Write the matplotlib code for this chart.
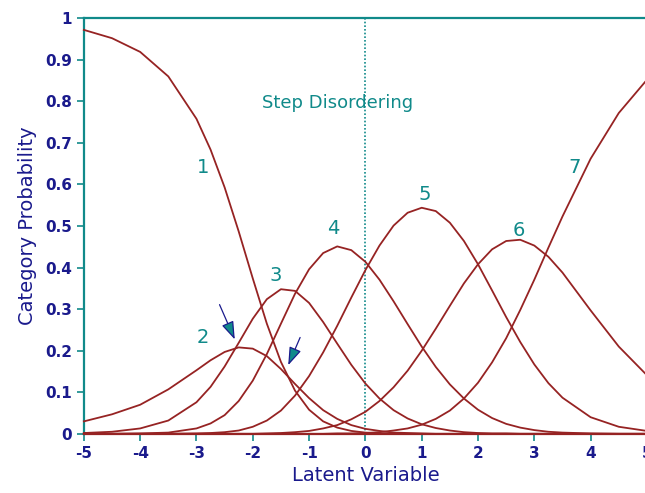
import numpy as np
import matplotlib.pyplot as plt

# latent variable positions and category probability curves
x = [-5, -4.5, -4, -3.5, -3, -2.75, -2.5, -2.25, -2, -1.75, -1.5, -1.25, -1, -0.75,
     -0.5, -0.25, 0, 0.25, 0.5, 0.75, 1, 1.25, 1.5, 1.75, 2, 2.25, 2.5, 2.75, 3, 3.25,
     3.5, 4, 4.5, 5]
cat1 = [0.972, 0.952, 0.919, 0.860, 0.758, 0.684, 0.593, 0.487, 0.374, 0.265, 0.173, 0.104,
        0.058, 0.030, 0.015, 0.007, 0.003, 0.001, 0.001, 0, 0, 0, 0, 0, 0, 0, 0, 0, 0, 0,
        0, 0, 0, 0]
cat2 = [0.030, 0.047, 0.070, 0.107, 0.153, 0.177, 0.197, 0.208, 0.205, 0.187, 0.156, 0.120,
        0.086, 0.057, 0.036, 0.021, 0.012, 0.007, 0.003, 0.002, 0.001, 0, 0, 0, 0, 0, 0, 0,
        0, 0, 0, 0, 0, 0]
cat3 = [0.002, 0.005, 0.013, 0.032, 0.076, 0.113, 0.162, 0.219, 0.277, 0.324, 0.348, 0.344,
        0.315, 0.269, 0.217, 0.166, 0.121, 0.085, 0.057, 0.037, 0.023, 0.014, 0.008, 0.004,
        0.002, 0.001, 0.001, 0, 0, 0, 0, 0, 0, 0]
cat4 = [0, 0, 0.001, 0.003, 0.013, 0.025, 0.045, 0.079, 0.128, 0.192, 0.265, 0.337,
        0.396, 0.435, 0.451, 0.442, 0.414, 0.371, 0.319, 0.264, 0.210, 0.161, 0.119, 0.085,
        0.058, 0.038, 0.024, 0.015, 0.009, 0.005, 0.003, 0.001, 0, 0]
cat5 = [0, 0, 0, 0, 0.001, 0.002, 0.004, 0.008, 0.017, 0.032, 0.056, 0.092,
        0.139, 0.196, 0.260, 0.328, 0.394, 0.453, 0.501, 0.532, 0.544, 0.536, 0.508, 0.464,
        0.408, 0.345, 0.281, 0.221, 0.167, 0.122, 0.087, 0.040, 0.017, 0.007]
cat6 = [0, 0, 0, 0, 0, 0, 0, 0, 0, 0.001, 0.002, 0.004,
        0.007, 0.013, 0.021, 0.035, 0.053, 0.079, 0.112, 0.152, 0.200, 0.253, 0.308, 0.362,
        0.408, 0.444, 0.464, 0.467, 0.453, 0.426, 0.388, 0.297, 0.210, 0.141]
cat7 = [0, 0, 0, 0, 0, 0, 0, 0, 0, 0, 0, 0,
        0, 0, 0.001, 0.001, 0.002, 0.004, 0.008, 0.013, 0.022, 0.036, 0.056, 0.085,
        0.123, 0.172, 0.230, 0.298, 0.371, 0.448, 0.523, 0.662, 0.772, 0.852]

cat_names = ['1', '2', '3', '4', '5', '6', '7']
label_x = [-2.89, -2.89, -1.59, -0.57, 1.05, 2.73, 3.71]
label_y = [0.64, 0.233, 0.38, 0.495, 0.575, 0.49, 0.64]

xticks = [-5, -4, -3, -2, -1, 0, 1, 2, 3, 4, 5]
yticks = [0, 0.1, 0.2, 0.3, 0.4, 0.5, 0.6, 0.7, 0.8, 0.9, 1]
ytick_labels = ['0', '0.1', '0.2', '0.3', '0.4', '0.5', '0.6', '0.7', '0.8', '0.9', '1']

teal = '#108a8a'
navy = '#1a1a8c'
maroon = '#962323'

fig = plt.figure(figsize=(6.45, 4.93), dpi=100)
ax = fig.add_axes([0.130, 0.120, 0.873, 0.843])

for cat in [cat1, cat2, cat3, cat4, cat5, cat6, cat7]:
    ax.plot(x, cat, color=maroon, lw=1.3, clip_on=False, zorder=3)

for name, lx, ly in zip(cat_names, label_x, label_y):
    ax.text(lx, ly, name, color=teal, fontsize=14, ha='center', va='center')

ax.text(-0.5, 0.795, 'Step Disordering', color=teal, fontsize=13, ha='center', va='center')

ax.axvline(0, color=teal, lw=1.2, ls=(0, (1, 1.2)), zorder=2)

# arrows marking the disordered steps
for tail, tip in [((-2.61, 0.317), (-2.30, 0.221)), ((-1.14, 0.238), (-1.39, 0.159))]:
    ax.annotate('', xy=tip, xytext=tail,
                arrowprops=dict(arrowstyle='-|>,head_length=1.1,head_width=0.38',
                                facecolor=teal, edgecolor=navy, lw=0.9), zorder=4)

ax.set_xlim(-5, 5)
ax.set_ylim(0, 1)
ax.set_xticks(xticks)
ax.set_xticklabels([str(t) for t in xticks])
ax.set_yticks(yticks)
ax.set_yticklabels(ytick_labels)
ax.tick_params(colors=teal, labelcolor=navy, labelsize=11, length=5, width=1.2)
for lab in ax.get_xticklabels() + ax.get_yticklabels():
    lab.set_fontweight('bold')

ax.spines['right'].set_visible(False)
ax.spines['top'].set_color(teal)
ax.spines['left'].set_color(teal)
ax.spines['bottom'].set_color(maroon)
for s in ['top', 'left', 'bottom']:
    ax.spines[s].set_linewidth(1.6)

ax.set_xlabel('Latent Variable', color=navy, fontsize=14, labelpad=4)
ax.set_ylabel('Category Probability', color=navy, fontsize=14, labelpad=6)

fig.savefig('out.png', dpi=100)
